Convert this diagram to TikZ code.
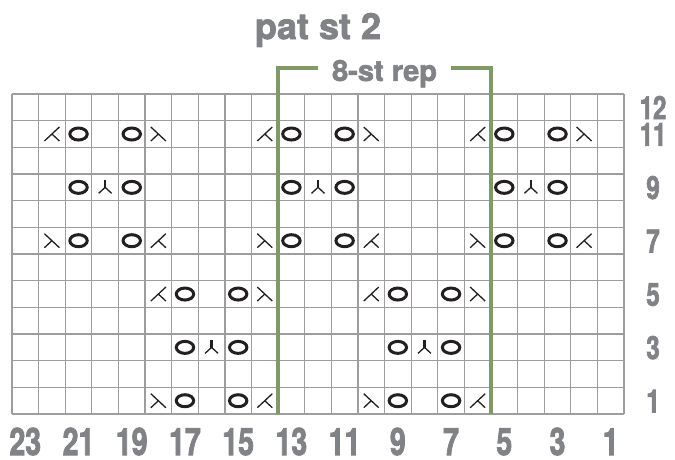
\documentclass[tikz,border=0pt]{standalone}
\usepackage{fontspec}
\usepackage{xcolor}
\usepackage{tikz}
\newfontfamily\chartfont[FakeStretch=0.75,FakeBold=2]{TeX Gyre Heros}
\newfontfamily\headfont[FakeBold=2]{TeX Gyre Heros}
\definecolor{chartGray}{HTML}{808285}
\definecolor{gridGray}{HTML}{9D9D9D}
\definecolor{repGreen}{HTML}{7F9A65}
\definecolor{symBlack}{HTML}{231F20}

\begin{document}
\begin{tikzpicture}[x=26.61pt,y=26.67pt,
  lbl/.style={text=chartGray,inner sep=0pt,anchor=base},
  gridline/.style={draw=gridGray,line width=1.3pt},
  repline/.style={draw=repGreen,line width=3.8pt},
  yo/.style={draw=symBlack,line width=3pt},
  dec/.style={draw=symBlack,line width=1.3pt}]
  \useasboundingbox (-0.451,-1.687) rectangle (24.915,15.525);

  % title and repeat label
  \node[lbl,font=\headfont\bfseries\fontsize{36}{40}\selectfont] (title) at (11.5,14.06) {pat st 2};
  \node[lbl,font=\headfont\bfseries\fontsize{29}{32}\selectfont] (rep) at (14,12.49) {8-st rep};

  % chart grid
  \foreach \i in {0,...,23}{
    \draw[gridline] (\i,0) -- (\i,12);
  }
  \foreach \j in {0,...,12}{
    \draw[gridline] (0,\j) -- (23,\j);
  }

  % yarn overs
  \foreach \s/\r in {
    21/11,19/11,13/11,11/11,5/11,3/11,
    21/9,19/9,13/9,11/9,5/9,3/9,
    21/7,19/7,13/7,11/7,5/7,3/7,
    17/5,15/5,9/5,7/5,
    17/3,15/3,9/3,7/3,
    17/1,15/1,9/1,7/1}{
    \draw[yo] (23.5-\s,\r-0.5) ellipse (8.7pt and 6pt);
  }
  % k2tog
  \foreach \s/\r in {22/11,14/11,6/11,18/7,10/7,2/7,18/5,10/5,14/1,6/1}{
    \draw[dec] (23.5-\s,\r-0.5) ++(7.5pt,7pt) -- ++(-15pt,-14pt)
      (23.5-\s,\r-0.5) -- ++(7.5pt,-7pt);
  }
  % ssk
  \foreach \s/\r in {18/11,10/11,2/11,22/7,14/7,6/7,14/5,6/5,18/1,10/1}{
    \draw[dec] (23.5-\s,\r-0.5) ++(-7.5pt,7pt) -- ++(15pt,-14pt)
      (23.5-\s,\r-0.5) -- ++(-7.5pt,-7pt);
  }
  % central double dec
  \foreach \s/\r in {20/9,12/9,4/9,16/3,8/3}{
    \draw[symBlack,line width=2.4pt] (23.5-\s,\r-0.5) ++(0,7.5pt) -- ++(0,-8.5pt);
    \draw[dec] (23.5-\s,\r-0.5) ++(-6.5pt,-6pt) -- ++(6.5pt,6pt) -- ++(6.5pt,-6pt);
  }

  % repeat bracket
  \coordinate (repL) at (10,12.97);
  \coordinate (repR) at (18,12.97);
  \draw[repline] (10,0) -- (repL) -- (11.5,12.97);
  \draw[repline] (16.5,12.97) -- (repR) -- (18,0);

  % row and stitch numbers
  \foreach \r in {1,3,5,7,9,11,12}{
    \node[lbl,font=\chartfont\bfseries\fontsize{32}{36}\selectfont] (row\r) at (24.09,\r-0.94) {\r};
  }
  \foreach \s in {1,3,...,23}{
    \node[lbl,font=\chartfont\bfseries\fontsize{38}{42}\selectfont] (st\s) at (23.5-\s,-1.54) {\s};
  }
\end{tikzpicture}
\end{document}
